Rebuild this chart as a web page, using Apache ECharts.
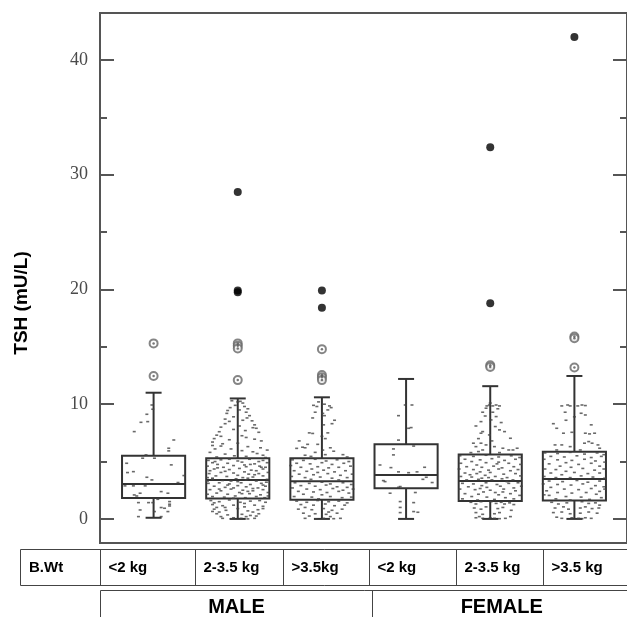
<!DOCTYPE html>
<html><head><meta charset="utf-8">
<script src="https://cdn.jsdelivr.net/npm/echarts@6/dist/echarts.min.js"></script>
<style>html,body{margin:0;padding:0;background:#fff}#c{width:627px;height:617px}</style>
</head><body><div id="c"></div>
<script>
// ---------- data ----------
const weightLabels = ['<2 kg', '2-3.5 kg', '>3.5kg', '<2 kg', '2-3.5 kg', '>3.5 kg'];
const sexLabels = ['MALE', 'FEMALE'];
const rowHeader = 'B.Wt';
const yTitle = 'TSH (mU/L)';
const yMajorTicks = [0, 10, 20, 30, 40];
const yMinorTicks = [5, 15, 25, 35];

const boxLow    = [0.1, 0.0, 0.0, 0.0, 0.0, 0.0];
const boxQ1     = [1.83, 1.77, 1.68, 2.67, 1.57, 1.60];
const boxMedian = [3.04, 3.39, 3.28, 3.83, 3.30, 3.48];
const boxQ3     = [5.50, 5.28, 5.28, 6.50, 5.62, 5.86];
const boxHigh   = [11.0, 10.5, 10.6, 12.2, 11.57, 12.46];

// [group, value]
const openOutliers = [[1,15.3],[1,12.46],[2,15.3],[2,15.1],[2,14.85],[2,12.1],[3,14.8],[3,12.55],[3,12.35],[3,12.1],[5,13.4],[5,13.25],[6,15.9],[6,15.75],[6,13.2]];
const extremeOutliers = [[2,28.5],[2,19.9],[2,19.75],[3,19.9],[3,18.4],[5,32.4],[5,18.8],[6,42.0]];

// jittered observations: [offset within group, value]
const ptsMaleLt2 = [[-0.02,9.93],[-0.01,9.56],[-0.08,9.12],[-0.15,8.42],[-0.07,8.48],[-0.23,7.61],[0.24,6.88],[0.18,6.16],[0.18,5.93],[-0.09,5.58],[0.01,5.29],[-0.13,5.29],[0.21,4.71],[-0.32,4.85],[-0.24,4.12],[-0.31,4.04],[-0.08,3.63],[-0.02,3.4],[0.29,3.17],[0.36,3.78],[-0.34,2.88],[-0.24,2.88],[-0.1,2.88],[0.09,2.38],[0.17,2.24],[-0.16,2.24],[-0.23,2.09],[-0.2,2.0],[0.05,1.71],[0.19,1.51],[0.19,1.28],[-0.18,1.42],[-0.06,1.42],[-0.01,1.42],[0.09,0.99],[0.13,0.93],[-0.16,0.78],[0.01,0.64],[0.17,0.64],[-0.18,0.2],[0.09,0.2],[0.19,1.13]];
const ptsMaleMid = [[-0.07,10.3],[0.0,10.2],[0.03,10.25],[0.06,10.1],[-0.03,9.9],[0.08,9.8],[-0.09,9.7],[0.12,9.6],[0.02,9.5],[-0.12,9.45],
[0.1,9.3],[-0.13,9.2],[0.14,9.0],[-0.05,8.9],[0.11,8.8],[-0.15,8.7],[0.06,8.6],[0.17,8.55],[-0.1,8.5],
[-0.15,8.3],[0.2,8.2],[0.02,8.1],[-0.2,8.0],[0.18,7.95],[0.22,7.9],[-0.05,7.8],[0.09,7.7],[-0.22,7.6],[0.25,7.55],
[-0.25,7.3],[-0.2,7.2],[0.05,7.25],[0.1,7.1],[-0.28,7.0],[0.2,6.95],[-0.1,6.9],[-0.3,6.7],[0.28,6.8],[0.0,6.6],[-0.18,6.55],
[-0.3,6.4],[-0.2,6.35],[0.12,6.3],[0.27,6.2],[-0.27,6.1],[-0.08,6.1],[0.35,6.0],[0.05,5.95],[-0.33,5.8],[0.18,5.85],[0.23,5.7],[-0.15,5.65],[0.3,5.55],[-0.04,5.5],[0.1,5.45],[-0.25,5.4],[0.33,5.35],
[-0.35,5.1],[-0.2,5.15],[0.0,5.05],[0.14,5.2],[0.3,5.1],
[-0.3,4.9],[-0.12,4.85],[0.05,4.95],[0.2,4.8],[0.35,4.9],[-0.24,4.75],
[-0.36,4.6],[-0.05,4.65],[0.1,4.55],[0.26,4.6],[-0.17,4.5],[0.33,4.5],
[-0.28,4.35],[-0.1,4.3],[0.02,4.4],[0.16,4.25],[0.3,4.35],[-0.33,4.2],[0.22,4.2],
[-0.2,4.05],[-0.05,4.0],[0.08,4.1],[0.25,3.95],[0.36,4.05],[-0.34,3.95],[0.13,3.9],
[-0.26,3.75],[-0.13,3.7],[0.0,3.8],[0.18,3.65],[0.3,3.75],[-0.36,3.6],[0.06,3.6],
[-0.3,3.45],[-0.18,3.35],[-0.02,3.5],[0.1,3.4],[0.22,3.3],[0.35,3.45],[-0.08,3.3],
[-0.35,3.1],[-0.22,3.15],[-0.1,3.05],[0.04,3.15],[0.15,3.0],[0.28,3.1],[0.34,3.2],
[-0.28,2.85],[-0.15,2.75],[0.0,2.9],[0.1,2.8],[0.24,2.7],[-0.05,2.7],[0.33,2.85],
[-0.33,2.55],[-0.2,2.45],[-0.08,2.6],[0.06,2.5],[0.18,2.45],[0.3,2.55],[0.12,2.4],
[-0.25,2.25],[-0.12,2.15],[0.02,2.3],[0.14,2.2],[0.27,2.1],[-0.36,2.15],[0.36,2.3],
[-0.3,1.95],[-0.16,1.9],[-0.03,2.0],[0.09,1.85],[0.22,1.95],[0.32,1.85],
[-0.27,5.0],[0.08,4.7],[-0.15,4.15],[0.28,4.5],[-0.3,3.55],[0.2,3.85],[-0.12,2.95],[0.3,2.95],[-0.22,2.6],[0.05,2.2],[-0.05,1.8],[0.18,2.65],[0.0,3.25],[-0.24,4.45],[0.15,4.75],[-0.36,3.3],[0.36,2.0],[0.25,5.0],[-0.1,5.2],[0.12,3.55],
[-0.32,1.6],[-0.22,1.5],[-0.1,1.65],[0.03,1.45],[0.15,1.55],[0.26,1.6],[0.33,1.45],[-0.28,1.4],
[-0.3,1.25],[-0.18,1.15],[-0.05,1.2],[0.08,1.05],[0.2,1.2],[0.3,1.1],[-0.25,1.0],
[-0.28,0.85],[-0.14,0.75],[0.0,0.9],[0.12,0.7],[0.24,0.8],[-0.22,0.6],[0.18,0.6],
[-0.25,0.45],[-0.12,0.35],[0.05,0.4],[0.15,0.3],[0.25,0.45],[-0.2,0.2],[0.1,0.2],
[-0.18,0.05],[-0.08,0.0],[0.04,0.05],[0.12,0.0],[0.2,0.05],
[-0.05,0.1],[0.22,0.25],[-0.3,0.65],[0.08,1.35],[-0.15,1.0],[0.3,0.9]];
const ptsMaleGt = [[-0.1,9.9],[-0.06,9.8],[0.03,10.0],[0.09,9.85],[-0.08,9.3],[0.01,9.2],[0.07,9.5],[-0.11,8.8],[0.15,8.6],[0.12,8.3],[0.02,8.2],[-0.15,7.5],[-0.11,7.45],[0.07,7.5],[0.0,7.2],[-0.27,6.8],[-0.17,6.5],[-0.3,6.15],[-0.23,6.25],[-0.05,6.5],[0.01,6.0],[0.14,5.9],[0.04,5.6],[-0.13,5.45],[-0.2,5.55],[0.25,5.6],[0.3,5.4],[0.03,9.0],[-0.04,10.2],[0.11,9.7],[0.04,7.0],[-0.2,6.2],[0.1,6.2],[-0.08,5.8],
[-0.35,5.15],[-0.22,5.1],[-0.08,5.2],[0.05,5.05],[0.18,5.15],[0.32,5.0],
[-0.3,4.85],[-0.14,4.8],[0.0,4.9],[0.12,4.75],[0.26,4.85],[-0.37,4.65],
[-0.25,4.5],[-0.05,4.55],[0.08,4.45],[0.2,4.5],[0.34,4.6],[-0.12,4.35],
[-0.33,4.2],[-0.18,4.15],[0.02,4.25],[0.15,4.1],[0.28,4.2],[-0.05,4.05],
[-0.27,3.9],[-0.1,3.85],[0.07,3.95],[0.22,3.8],[0.36,3.9],[-0.36,3.7],
[-0.2,3.6],[-0.02,3.65],[0.12,3.55],[0.3,3.6],[-0.13,3.45],[0.2,3.4],
[-0.32,3.15],[-0.15,3.1],[0.0,3.2],[0.1,3.05],[0.25,3.15],[0.35,3.0],
[-0.25,2.9],[-0.08,2.85],[0.05,2.95],[0.18,2.8],[0.3,2.75],[-0.35,2.7],
[-0.18,2.6],[-0.02,2.55],[0.13,2.65],[0.25,2.5],[0.37,2.6],[-0.28,2.4],
[-0.1,2.35],[0.06,2.3],[0.2,2.4],[0.32,2.25],[-0.22,2.15],[0.0,2.1],
[-0.33,1.95],[-0.12,1.9],[0.1,1.95],[0.24,1.85],[-0.04,1.75],[0.35,1.9],
[-0.3,1.55],[-0.18,1.45],[-0.05,1.6],[0.08,1.5],[0.2,1.55],[0.3,1.4],
[-0.25,1.25],[-0.1,1.2],[0.04,1.3],[0.15,1.15],[0.27,1.2],[-0.2,1.0],
[-0.28,0.85],[-0.12,0.8],[0.02,0.9],[0.12,0.75],[0.24,0.85],[0.08,0.6],
[-0.22,0.5],[-0.08,0.45],[0.05,0.4],[0.18,0.5],[-0.15,0.25],[0.1,0.2],
[-0.2,0.05],[-0.07,0.0],[0.02,0.05],[0.14,0.02],[0.22,0.05]];
const ptsFemaleLt2 = [[-0.01,9.93],[0.07,9.93],[-0.09,9.0],[0.03,7.9],[0.06,7.96],[-0.09,6.87],[0.09,6.35],[-0.15,6.1],[-0.15,5.58],[-0.31,4.7],[-0.18,4.47],[0.22,4.5],[-0.09,4.1],[0.03,4.03],[0.13,4.1],[0.24,3.63],[0.2,3.45],[0.31,3.17],[-0.27,3.34],[-0.07,2.82],[-0.19,2.24],[0.11,2.3],[-0.07,1.51],[0.09,1.42],[-0.07,0.55],[0.09,0.64],[-0.09,2.75],[0.14,0.58],[-0.07,1.0],[-0.25,3.25]];
const ptsFemaleMid = [[-0.04,9.85],[-0.01,9.93],[0.03,9.85],[0.07,9.93],[0.11,9.85],[-0.09,9.3],[0.03,9.3],[-0.06,8.97],[0.07,8.92],[0.01,8.63],[-0.11,8.48],[0.06,8.05],[-0.17,8.1],[-0.09,7.61],[0.11,7.76],[0.17,7.61],[-0.01,7.32],[-0.11,7.47],[0.24,7.03],[-0.2,6.6],[-0.11,6.6],[-0.05,6.45],[0.05,6.3],[0.15,6.16],[0.22,6.01],[0.27,6.01],[0.32,6.16],[-0.14,5.87],[-0.23,5.78],[0.11,5.78],[-0.09,6.01],[-0.17,6.3],[0.0,10.1],[0.09,9.6],[-0.05,9.65],[0.13,8.4],[-0.14,7.0],[0.02,6.8],
[-0.36,5.5],[-0.2,5.45],[-0.05,5.55],[0.1,5.4],[0.25,5.5],[0.35,5.35],
[-0.3,5.2],[-0.12,5.15],[0.02,5.25],[0.17,5.1],[0.3,5.2],[-0.22,5.0],
[-0.35,4.85],[-0.05,4.9],[0.08,4.8],[0.22,4.85],[0.36,4.75],[-0.16,4.7],
[-0.28,4.55],[-0.1,4.5],[0.04,4.6],[0.14,4.45],[0.28,4.55],[-0.37,4.35],
[-0.2,4.3],[-0.02,4.25],[0.1,4.35],[0.24,4.2],[0.33,4.3],[-0.12,4.1],
[-0.3,4.0],[-0.16,3.95],[0.0,4.05],[0.16,3.9],[0.3,3.95],[-0.06,3.8],
[-0.35,3.7],[-0.22,3.65],[0.06,3.7],[0.2,3.6],[0.36,3.75],[-0.1,3.55],
[-0.28,3.4],[-0.14,3.45],[0.02,3.4],[0.14,3.5],[0.27,3.4],[0.33,3.15],
[-0.33,3.1],[-0.2,3.05],[-0.05,3.15],[0.08,3.0],[0.22,3.1],[-0.1,2.9],
[-0.26,2.8],[-0.04,2.75],[0.12,2.85],[0.28,2.7],[0.37,2.85],[-0.36,2.6],
[-0.18,2.55],[0.0,2.5],[0.16,2.6],[0.3,2.45],[-0.08,2.35],[0.06,2.3],
[-0.3,2.2],[-0.14,2.15],[0.1,2.1],[0.24,2.2],[0.35,2.05],[-0.22,1.95],
[-0.04,1.9],[0.18,1.85],[-0.33,1.75],[0.05,1.7],[0.28,1.75],[-0.15,1.65],
[0.2,3.25],[-0.24,3.85],[0.1,4.95],[-0.02,3.6],[0.15,2.35],[-0.12,2.65],
[-0.23,1.45],[-0.17,1.3],[-0.11,1.5],[0.01,1.5],[0.07,1.35],[0.13,1.45],[0.17,1.3],[0.23,1.4],[0.28,1.25],
[-0.19,0.95],[-0.11,0.85],[-0.05,1.05],[0.09,0.9],[0.15,1.0],[-0.17,0.55],[-0.09,0.4],[0.05,0.45],[0.11,0.55],[0.25,0.75],[0.24,0.2],
[-0.17,0.1],[-0.09,0.05],[0.05,0.05],[0.11,0.02],[-0.13,0.2],[0.0,0.1],[0.18,0.05]];
const ptsFemaleGt = [[-0.15,9.85],[-0.08,9.93],[-0.05,9.85],[0.04,9.85],[0.09,9.93],[0.13,9.88],[-0.11,9.3],[0.08,9.21],[0.13,9.06],[-0.21,7.9],[-0.13,7.47],[-0.03,7.55],[0.13,7.47],[0.18,7.41],[0.24,7.47],[-0.23,6.45],[-0.15,6.45],[0.12,6.6],[0.17,6.74],[0.21,6.6],[0.28,6.45],[-0.05,6.3],[0.07,6.01],[-0.21,6.01],[0.3,6.16],[-0.1,8.6],[0.0,8.9],[0.2,8.2],[-0.25,8.3],
[-0.35,5.75],[-0.2,5.7],[-0.05,5.8],[0.12,5.65],[0.27,5.75],[0.35,5.6],
[-0.28,5.45],[-0.12,5.4],[0.03,5.5],[0.2,5.35],[0.32,5.45],[-0.36,5.2],
[-0.2,5.15],[-0.03,5.1],[0.12,5.2],[0.25,5.05],[-0.1,4.9],[0.36,4.95],
[-0.3,4.8],[0.05,4.75],[0.2,4.85],[-0.17,4.6],[0.3,4.6],[-0.04,4.5],
[-0.35,4.35],[-0.22,4.3],[0.1,4.4],[0.24,4.25],[0.35,4.35],[-0.1,4.15],
[-0.28,4.0],[0.0,4.05],[0.16,3.95],[0.3,4.0],[-0.15,3.85],[0.08,3.75],
[-0.36,3.7],[-0.22,3.6],[0.22,3.65],[0.36,3.55],[-0.05,3.6],
[-0.3,3.3],[-0.14,3.25],[0.03,3.35],[0.16,3.2],[0.3,3.3],[-0.37,3.05],
[-0.2,3.0],[-0.04,2.95],[0.1,3.05],[0.25,2.9],[-0.28,2.75],[0.35,2.8],
[-0.12,2.6],[0.05,2.55],[0.2,2.65],[-0.33,2.45],[0.3,2.4],[-0.2,2.3],
[-0.03,2.25],[0.14,2.3],[0.26,2.15],[-0.3,2.05],[-0.1,1.95],[0.08,1.9],
[0.32,1.85],[-0.22,1.75],[0.18,1.7],[-0.05,1.65],[0.36,2.6],[-0.36,2.1],
[-0.27,1.45],[-0.19,1.3],[-0.09,1.4],[0.09,1.5],[0.17,1.35],[0.25,1.4],[0.3,1.2],
[-0.23,0.95],[-0.13,1.05],[-0.07,0.85],[0.07,0.95],[0.13,1.05],[0.21,0.9],[0.29,0.95],
[-0.25,0.55],[-0.15,0.6],[-0.05,0.45],[0.07,0.5],[0.17,0.6],[0.27,0.5],
[-0.21,0.15],[-0.15,0.05],[0.05,0.05],[0.09,0.02],[0.13,0.1],[-0.03,0.1],[0.2,0.05]];

// ---------- build ----------
const groups = [ptsMaleLt2, ptsMaleMid, ptsMaleGt, ptsFemaleLt2, ptsFemaleMid, ptsFemaleGt];
const jitterData = [];
groups.forEach((g, i) => g.forEach(p => jitterData.push([i + 1 + p[0], p[1]])));
const boxData = boxLow.map((v, i) => [i + 1, boxLow[i], boxQ1[i], boxMedian[i], boxQ3[i], boxHigh[i]]);

const BOX_HALF = 0.375, CAP_HALF = 0.095;
const LINE = '#333';

function renderBox(params, api) {
  const x = api.value(0);
  const lo = api.coord([x, api.value(1)]);
  const q1 = api.coord([x, api.value(2)]);
  const md = api.coord([x, api.value(3)]);
  const q3 = api.coord([x, api.value(4)]);
  const hi = api.coord([x, api.value(5)]);
  const hb = api.size([BOX_HALF, 0])[0];
  const hc = api.size([CAP_HALF, 0])[0];
  const st = { stroke: LINE, lineWidth: 2, fill: 'none' };
  return {
    type: 'group',
    children: [
      { type: 'line', shape: { x1: hi[0], y1: hi[1], x2: q3[0], y2: q3[1] }, style: st },
      { type: 'line', shape: { x1: lo[0], y1: lo[1], x2: q1[0], y2: q1[1] }, style: st },
      { type: 'line', shape: { x1: hi[0] - hc, y1: hi[1], x2: hi[0] + hc, y2: hi[1] }, style: st },
      { type: 'line', shape: { x1: lo[0] - hc, y1: lo[1], x2: lo[0] + hc, y2: lo[1] }, style: st },
      { type: 'rect', shape: { x: q3[0] - hb, y: q3[1], width: 2 * hb, height: q1[1] - q3[1] }, style: st },
      { type: 'line', shape: { x1: md[0] - hb, y1: md[1], x2: md[0] + hb, y2: md[1] }, style: st }
    ]
  };
}

const Y_MIN = -2.1, Y_MAX = 44.1;
function yAx(pos, ticks, len, labels) {
  return {
    type: 'value', position: pos, min: Y_MIN, max: Y_MAX,
    axisLine: { show: false }, splitLine: { show: false },
    axisTick: { show: true, inside: true, length: len, customValues: ticks, lineStyle: { color: '#555', width: 2 } },
    axisLabel: labels ? { show: true, customValues: ticks, margin: 12, fontFamily: 'Liberation Serif', fontSize: 18, color: '#4a4a4a' } : { show: false }
  };
}

// table geometry (layout only)
const TBL_TOP = 549.5, TBL_BOT = 585.5, TBL_LEFT = 20.5, TBL_RIGHT = 660;
const COL_X = [100.5, 195.5, 283.5, 369.5, 456.5, 543.5];
const ROW2_TOP = 590.5, ROW2_LEFT = 100.5, ROW2_SPLIT = 372.5;
const tStroke = { stroke: '#444', lineWidth: 1, fill: 'none' };
const txt = (x, y, s, size, align) => ({ type: 'text', x, y, style: { text: s, fontFamily: 'Liberation Sans', fontWeight: 'bold', fontSize: size, fill: '#000', align: align, verticalAlign: 'middle' } });
const graphics = [
  { type: 'rect', shape: { x: TBL_LEFT, y: TBL_TOP, width: TBL_RIGHT - TBL_LEFT, height: TBL_BOT - TBL_TOP }, style: tStroke },
  { type: 'rect', shape: { x: ROW2_LEFT, y: ROW2_TOP, width: TBL_RIGHT - ROW2_LEFT, height: 80 }, style: tStroke },
  { type: 'line', shape: { x1: ROW2_SPLIT, y1: ROW2_TOP, x2: ROW2_SPLIT, y2: 640 }, style: tStroke },
  txt(29, 567.5, rowHeader, 15, 'left'),
  { type: 'text', x: 22, y: 303, rotation: Math.PI / 2, style: { text: yTitle, fontFamily: 'Liberation Sans', fontWeight: 'bold', fontSize: 19, fill: '#000', align: 'center', verticalAlign: 'middle' } }
];
COL_X.forEach((cx, i) => {
  graphics.push({ type: 'line', shape: { x1: cx, y1: TBL_TOP, x2: cx, y2: TBL_BOT }, style: tStroke });
  graphics.push(txt(cx + 8, 567.5, weightLabels[i], 15, 'left'));
});
graphics.push(txt((ROW2_LEFT + ROW2_SPLIT) / 2, 607, sexLabels[0], 20, 'center'));
graphics.push(txt((ROW2_SPLIT + 631) / 2, 607, sexLabels[1], 20, 'center'));

const chart = echarts.init(document.getElementById('c'), null, { renderer: 'canvas' });
chart.setOption({
  animation: false,
  backgroundColor: '#fff',
  grid: { left: 100, top: 13, width: 531, height: 530, show: true, borderColor: '#555', borderWidth: 2, backgroundColor: 'transparent' },
  xAxis: { type: 'value', min: 0.3632, max: 6.625, show: false },
  yAxis: [
    yAx('left', yMajorTicks, 14, true),
    yAx('left', yMinorTicks, 7, false),
    yAx('right', yMajorTicks, 14, false),
    yAx('right', yMinorTicks, 7, false)
  ],
  series: [
    { type: 'custom', renderItem: renderBox, data: boxData, encode: { x: 0, y: [1, 2, 3, 4, 5] }, z: 3 },
    { type: 'scatter', data: jitterData, symbol: 'rect', symbolSize: [3, 1.6], itemStyle: { color: '#444' }, z: 4 },
    { type: 'scatter', data: openOutliers, symbol: 'circle', symbolSize: 8, itemStyle: { color: '#fff', borderColor: '#666', borderWidth: 2 }, z: 5 },
    { type: 'scatter', data: openOutliers, symbol: 'circle', symbolSize: 2.5, itemStyle: { color: '#555' }, z: 6 },
    { type: 'scatter', data: extremeOutliers, symbol: 'circle', symbolSize: 8, itemStyle: { color: '#000' }, z: 5 }
  ],
  graphic: graphics
});
</script></body></html>
